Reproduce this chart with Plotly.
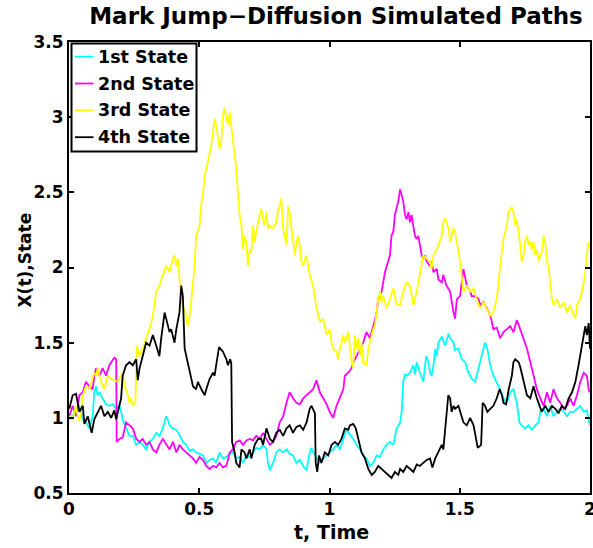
import plotly.graph_objects as go

# ---------------- data ----------------
t1 = [0.001,0.014,0.027,0.040,0.053,0.065,0.078,0.091,0.097,0.104,0.110,0.117,0.129,0.142,0.155,0.168,0.181,0.194,0.200,0.206,0.219,0.232,0.245,0.258,0.271,0.283,0.296,0.309,0.322,0.335,0.347,0.360,0.373,0.379,0.386,0.399,0.412,0.424,0.437,0.450,0.463,0.476,0.488,0.501,0.514,0.527,0.540,0.553,0.565,0.578,0.591,0.604,0.617,0.629,0.642,0.655,
      0.668,0.681,0.694,0.706,0.719,0.732,0.745,0.758,0.764,0.771,0.783,0.796,0.809,0.822,0.835,0.847,0.860,0.873,0.886,0.899,0.912,0.924,0.931,0.937,0.950,0.963,0.976,0.989,1.001,1.014,1.027,1.040,1.053,1.065,1.078,1.091,1.104,1.117,1.129,1.142,1.155,1.168,1.181,1.194,1.206,1.219,1.232,1.245,1.258,
      1.271,1.277,1.283,1.290,1.296,1.309,1.322,1.328,1.335,1.347,1.360,1.371,1.380,1.386,1.392,1.399,1.406,1.412,1.418,1.431,1.444,1.457,1.463,1.476,1.482,1.495,1.508,1.521,1.533,1.546,1.559,1.572,1.585,1.597,1.606,1.617,1.629,1.642,1.655,1.668,1.681,1.694,1.706,1.719,1.729,1.738,1.751,1.764,1.777,1.790,1.803,1.809,1.822,1.835,1.847,1.860,1.873,1.886,1.899,1.912,1.924,1.937,1.950,1.963,1.976,1.988,1.995,2.000]
x1 = [0.99,1.01,1.06,1.08,0.99,0.97,0.93,1.01,1.17,1.21,1.15,1.17,1.13,1.09,1.08,1.09,1.06,1.08,1.04,0.99,0.93,0.88,0.88,0.82,0.84,0.82,0.79,0.84,0.86,0.90,0.88,0.93,1.01,0.99,0.95,0.93,0.92,0.89,0.84,0.82,0.78,0.79,0.77,0.76,0.75,0.70,0.72,0.73,0.70,0.77,0.73,0.74,0.76,0.77,0.73,0.74,
      0.70,0.75,0.74,0.77,0.80,0.79,0.82,0.79,0.70,0.65,0.70,0.77,0.79,0.77,0.79,0.76,0.75,0.70,0.72,0.68,0.65,0.77,0.80,0.77,0.73,0.70,0.73,0.75,0.77,0.79,0.82,0.79,0.86,0.92,0.89,0.86,0.82,0.79,0.75,0.73,0.68,0.70,0.75,0.74,0.79,0.82,0.84,0.82,0.93,
      0.97,1.04,1.24,1.29,1.28,1.30,1.35,1.29,1.37,1.30,1.24,1.41,1.37,1.30,1.28,1.35,1.46,1.41,1.50,1.54,1.48,1.56,1.53,1.50,1.45,1.46,1.39,1.37,1.30,1.26,1.24,1.33,1.41,1.50,1.46,1.35,1.28,1.24,1.19,1.13,1.10,1.17,1.19,1.10,0.97,0.95,0.93,0.95,0.92,0.95,0.97,1.04,1.06,1.01,1.08,1.01,1.04,1.06,1.04,1.01,1.04,1.04,1.06,1.08,1.04,1.05,0.99,0.95]

t2 = [0.001,0.014,0.027,0.040,0.053,0.065,0.078,0.091,0.097,0.104,0.117,0.129,0.142,0.155,0.162,0.168,0.174,0.181,0.183,0.194,0.206,0.219,0.232,0.245,0.258,0.271,0.283,0.296,0.309,0.322,0.335,0.347,0.360,0.373,0.386,0.399,0.412,0.424,0.437,0.450,0.463,0.476,0.488,0.501,0.514,0.527,0.540,0.553,0.565,0.578,0.591,0.604,
      0.617,0.629,0.642,0.655,0.668,0.681,0.694,0.706,0.719,0.732,0.745,0.758,0.771,0.783,0.796,0.809,0.822,0.835,0.847,0.854,0.860,0.873,0.886,0.899,0.912,0.924,0.937,0.950,0.956,0.963,0.976,0.989,1.001,1.014,1.027,1.040,1.053,1.059,1.072,1.085,1.091,1.104,1.117,1.129,1.142,1.155,1.168,1.181,1.187,1.200,1.213,1.226,
      1.232,1.238,1.245,1.251,1.258,1.264,1.271,1.277,1.283,1.290,1.296,1.303,1.309,1.315,1.322,1.328,1.335,1.341,1.347,1.354,1.360,1.367,1.373,1.386,1.392,1.399,1.412,1.418,1.431,1.437,1.449,1.463,1.476,1.482,1.489,1.501,1.514,1.521,1.527,1.540,1.546,1.559,1.572,1.578,1.591,1.604,1.617,1.623,1.629,1.642,1.655,1.668,1.681,1.694,1.706,1.719,1.732,1.745,1.758,1.771,1.783,1.796,1.809,1.822,1.835,1.847,1.860,1.873,1.886,1.899,1.912,1.924,1.937,1.950,1.963,1.976,1.988,1.995,2.000]
x2 = [1.01,1.08,1.01,1.15,1.17,1.24,1.21,1.19,1.28,1.33,1.28,1.33,1.28,1.35,1.37,1.39,1.40,1.39,0.84,0.86,0.87,0.97,0.95,0.93,0.86,0.84,0.86,0.82,0.84,0.79,0.77,0.82,0.86,0.82,0.79,0.84,0.77,0.82,0.79,0.77,0.75,0.73,0.70,0.74,0.72,0.68,0.66,0.68,0.67,0.70,0.67,0.68,
      0.77,0.79,0.84,0.85,0.82,0.85,0.86,0.85,0.88,0.86,0.90,0.86,0.82,0.84,0.88,0.97,1.01,1.10,1.17,1.15,1.13,1.10,1.09,1.13,1.15,1.17,1.19,1.25,1.22,1.17,1.13,1.09,1.04,1.00,1.08,1.13,1.19,1.28,1.30,1.33,1.37,1.41,1.46,1.50,1.57,1.53,1.61,1.70,1.79,1.84,1.97,2.04,
      2.08,2.21,2.24,2.35,2.39,2.44,2.52,2.48,2.44,2.35,2.32,2.37,2.30,2.35,2.28,2.21,2.19,2.21,2.15,2.08,2.06,2.08,2.04,2.01,2.04,1.97,1.99,1.92,1.90,1.95,1.88,1.84,1.70,1.66,1.79,1.81,1.99,1.92,1.88,1.84,1.81,1.81,1.79,1.75,1.77,1.73,1.68,1.64,1.59,1.60,1.53,1.57,1.59,1.61,1.57,1.65,1.59,1.53,1.46,1.37,1.28,1.19,1.13,1.08,1.17,1.10,1.19,1.13,1.10,1.06,1.08,1.13,1.08,1.15,1.24,1.30,1.28,1.19,1.17]

t3 = [0.001,0.014,0.027,0.033,0.040,0.046,0.053,0.065,0.078,0.091,0.097,0.104,0.110,0.123,0.136,0.149,0.162,0.174,0.187,0.200,0.206,0.213,0.219,0.226,0.232,0.238,0.245,0.255,0.260,0.271,0.283,0.296,0.309,0.322,0.335,0.347,0.360,0.373,0.386,0.399,0.405,0.412,0.418,0.424,0.431,0.437,0.450,0.456,0.463,0.469,0.476,0.482,
      0.488,0.501,0.508,0.514,0.521,0.527,0.533,0.540,0.546,0.553,0.559,0.565,0.572,0.578,0.585,0.591,0.597,0.604,0.610,0.617,0.623,0.629,0.636,0.642,0.649,0.655,0.662,0.668,0.674,0.681,0.687,0.694,0.700,0.706,0.713,0.719,0.732,0.738,0.745,0.751,0.758,0.764,0.771,0.783,0.796,0.803,0.809,0.815,0.822,0.829,0.835,0.841,0.847,0.854,0.860,0.867,0.873,0.880,0.886,0.892,0.899,0.906,0.912,0.917,0.924,
      0.937,0.950,0.963,0.976,0.989,1.001,1.008,1.014,1.027,1.033,1.040,1.053,1.059,1.072,1.078,1.085,1.091,1.097,1.104,1.110,1.117,1.123,1.129,1.142,1.149,1.155,1.168,1.174,1.181,1.187,1.194,1.200,1.206,1.219,1.232,1.245,1.258,
      1.271,1.283,1.296,1.309,1.322,1.335,1.347,1.360,1.373,1.386,1.392,1.399,1.412,1.424,1.431,1.437,1.444,1.449,1.457,1.463,1.469,1.476,1.482,1.489,1.495,1.501,1.514,1.527,1.540,1.553,1.565,1.578,1.591,1.604,1.617,1.629,1.642,1.649,1.655,1.668,1.681,1.687,1.694,1.700,1.706,1.713,1.719,1.726,1.732,1.738,1.745,1.751,1.758,1.764,1.771,1.777,1.783,1.790,1.796,1.803,1.809,1.815,1.822,1.828,1.835,1.841,1.847,1.854,1.860,1.873,1.886,1.899,1.912,1.924,1.937,1.944,1.950,1.963,1.976,1.982,1.988,1.995,2.000]
x3 = [1.01,0.99,1.08,1.01,0.98,1.04,1.15,1.21,1.19,1.26,1.30,1.28,1.33,1.24,1.19,1.28,1.26,1.25,1.24,1.28,1.30,1.21,1.19,1.15,1.10,1.13,1.08,1.10,1.48,1.41,1.46,1.53,1.59,1.68,1.84,1.88,1.95,2.01,1.97,2.06,2.08,2.01,2.06,1.92,1.79,1.75,1.68,1.61,1.68,1.77,1.88,2.01,
      2.21,2.28,2.43,2.48,2.61,2.66,2.70,2.75,2.81,2.90,2.99,2.95,2.84,2.79,2.84,3.01,3.06,3.01,2.95,3.03,2.95,2.86,2.75,2.66,2.48,2.35,2.28,2.12,2.21,2.17,2.01,2.12,2.10,2.28,2.17,2.24,2.35,2.39,2.32,2.28,2.37,2.26,2.28,2.26,2.30,2.39,2.41,2.46,2.26,2.21,2.15,2.41,2.37,2.26,2.17,2.08,2.17,2.21,2.15,2.04,2.01,2.06,2.08,2.01,1.95,
      1.88,1.73,1.64,1.66,1.55,1.59,1.50,1.46,1.44,1.39,1.46,1.55,1.50,1.57,1.48,1.37,1.33,1.55,1.46,1.53,1.41,1.50,1.37,1.35,1.46,1.50,1.59,1.61,1.73,1.79,1.84,1.77,1.81,1.73,1.79,1.86,1.75,
      1.75,1.84,1.90,1.88,1.75,1.84,1.95,2.08,2.06,2.04,1.99,2.08,2.12,2.17,2.21,2.30,2.33,2.30,2.26,2.17,2.21,2.26,2.24,2.17,2.12,2.04,1.84,1.88,1.84,1.86,1.79,1.73,1.77,1.73,1.68,1.70,1.79,1.90,2.01,2.19,2.28,2.37,2.39,2.40,2.37,2.28,2.32,2.24,2.15,2.04,2.08,2.17,2.21,2.15,2.17,2.12,2.17,2.08,2.12,2.04,2.08,2.10,2.21,2.17,2.04,2.01,1.90,1.79,1.75,1.79,1.73,1.77,1.70,1.75,1.68,1.66,1.75,1.79,1.90,1.97,2.08,2.17,2.12]

t4 = [0.001,0.014,0.027,0.040,0.053,0.059,0.072,0.085,0.087,0.097,0.110,0.123,0.136,0.149,0.162,0.174,0.181,0.194,0.200,0.206,0.219,0.232,0.245,0.258,0.264,0.271,0.283,0.296,0.309,0.322,0.335,0.347,0.354,0.367,0.373,0.386,0.392,0.405,0.412,0.418,0.424,0.431,0.437,0.444,0.456,0.469,0.476,0.488,0.495,0.508,0.521,0.527,0.540,0.553,0.559,0.565,0.576,0.591,0.604,0.610,0.619,0.623,0.626,
      0.636,0.642,0.655,0.662,0.674,0.681,0.694,0.700,0.713,0.726,0.738,0.745,0.758,0.771,0.783,0.796,0.809,0.822,0.835,0.847,0.860,0.873,0.886,0.899,0.912,0.924,0.931,0.937,0.944,0.947,0.953,0.960,0.969,0.982,0.995,1.008,1.021,1.033,1.046,1.059,1.072,1.078,1.091,1.101,1.110,1.123,1.136,1.149,1.162,1.174,1.187,1.200,1.213,1.226,1.238,1.251,1.264,
      1.271,1.283,1.296,1.309,1.322,1.335,1.347,1.360,1.373,1.386,1.395,1.406,1.418,1.431,1.437,1.447,1.456,1.463,1.469,1.476,1.482,1.495,1.501,1.514,1.527,1.540,1.553,1.563,1.569,1.582,1.588,1.597,1.606,1.617,1.629,1.642,1.653,1.662,1.668,1.678,1.688,1.700,1.706,1.713,1.726,1.732,1.745,1.758,1.771,1.783,1.796,1.809,1.815,1.828,1.841,1.854,1.867,1.879,1.892,1.905,1.918,1.931,1.944,1.956,1.969,1.976,1.982,1.988,1.995,2.000]
x4 = [1.06,1.15,1.16,1.04,1.08,0.96,1.01,0.93,0.90,0.99,1.04,1.08,1.01,1.04,1.00,1.05,0.99,1.08,1.13,1.28,1.35,1.37,1.35,1.39,1.25,1.33,1.41,1.50,1.48,1.55,1.48,1.41,1.53,1.70,1.66,1.57,1.59,1.50,1.59,1.65,1.70,1.88,1.81,1.46,1.37,1.26,1.21,1.19,1.24,1.19,1.15,1.19,1.26,1.30,1.28,1.35,1.47,1.44,1.39,1.35,1.39,1.36,0.84,
      0.77,0.70,0.67,0.79,0.77,0.73,0.79,0.73,0.82,0.86,0.86,0.82,0.93,0.86,0.84,0.90,0.92,0.88,0.93,0.95,0.90,0.94,0.95,0.92,0.97,1.06,1.08,1.05,1.03,0.70,0.64,0.75,0.70,0.77,0.75,0.82,0.84,0.82,0.86,0.93,0.92,0.95,0.96,0.93,0.86,0.77,0.73,0.66,0.62,0.64,0.68,0.66,0.64,0.62,0.60,0.64,0.62,
      0.66,0.64,0.68,0.66,0.64,0.69,0.68,0.70,0.72,0.73,0.67,0.73,0.77,0.82,0.79,0.97,1.15,1.13,1.04,1.08,1.06,1.08,1.04,0.97,0.95,1.00,0.95,0.84,0.80,0.82,1.10,1.08,1.04,1.06,1.08,1.13,1.19,1.15,1.10,1.09,1.19,1.28,1.37,1.39,1.37,1.34,1.24,1.15,1.13,1.21,1.13,1.06,1.04,1.08,1.04,1.08,1.06,1.03,1.08,1.06,1.13,1.17,1.24,1.35,1.48,1.55,1.61,1.55,1.63,1.46]

names = ["1st State", "2nd State", "3rd State", "4th State"]
colors = ["#00FFFF", "#FF00FF", "#FFFF00", "#000000"]
series_t = [t1, t2, t3, t4]
series_x = [x1, x2, x3, x4]

x_ticks = [0, 0.5, 1, 1.5, 2]
x_ticktext = ["0", "0.5", "1", "1.5", "2"]
y_ticks = [0.5, 1, 1.5, 2, 2.5, 3, 3.5]
y_ticktext = ["0.5", "1", "1.5", "2", "2.5", "3", "3.5"]

title_text = "Mark Jump\u2212Diffusion Simulated Paths"
x_title = "t, Time"
y_title = "X(t),State"

# ---------------- figure ----------------
FONT = "DejaVu Sans"
W, H = 593, 548
ML, MR, MT, MB = 69, 3, 42, 55

fig = go.Figure()
for tt, xx, nm, c in zip(series_t, series_x, names, colors):
    fig.add_trace(go.Scatter(x=tt, y=xx, mode="lines", name=nm,
                             line=dict(color=c, width=1.8), showlegend=False))

axis_common = dict(showgrid=False, zeroline=False, showline=True, linecolor="black",
                   linewidth=2, mirror="allticks", ticks="inside", ticklen=5,
                   tickwidth=1.5, tickcolor="black", ticklabeloverflow="allow",
                   tickfont=dict(family=FONT, size=17, color="black", weight="bold"))

fig.update_xaxes(range=[0, 2], tickvals=x_ticks, ticktext=x_ticktext, **axis_common)
fig.update_yaxes(range=[0.5, 3.5], tickvals=y_ticks, ticktext=y_ticktext, **axis_common)

pw = W - ML - MR
ph = H - MT - MB
def px2x(px):
    return (px - ML) / pw
def py2y(py):
    return (H - MB - py) / ph

# axis titles placed where the reference shows them
annotations = [
    dict(xref="paper", yref="paper", x=px2x(331), y=py2y(532), xanchor="center", yanchor="middle",
         showarrow=False, text=x_title, font=dict(family=FONT, size=19, color="black", weight="bold")),
    dict(xref="paper", yref="paper", x=px2x(24), y=py2y(260.5), xanchor="center", yanchor="middle",
         showarrow=False, text=y_title, textangle=-90,
         font=dict(family=FONT, size=17, color="black", weight="bold")),
]

# MATLAB-style legend box (top-left)
shapes = [dict(type="rect", xref="paper", yref="paper",
               x0=px2x(71.5), x1=px2x(196.5), y0=py2y(151.5), y1=py2y(43.5),
               line=dict(color="black", width=2), fillcolor="white", layer="above")]
legend_py = [56.7, 83.5, 110.3, 137.2]
for nm, c, ly in zip(names, colors, legend_py):
    shapes.append(dict(type="line", xref="paper", yref="paper",
                       x0=px2x(75), x1=px2x(93.5), y0=py2y(ly), y1=py2y(ly),
                       line=dict(color=c, width=1.8), layer="above"))
    annotations.append(dict(xref="paper", yref="paper", x=px2x(95.5), y=py2y(ly),
                            xanchor="left", yanchor="middle", showarrow=False, text=nm,
                            font=dict(family=FONT, size=17.5, color="black", weight="bold")))

fig.update_layout(
    width=W, height=H,
    margin=dict(l=ML, r=MR, t=MT, b=MB, autoexpand=False),
    paper_bgcolor="white", plot_bgcolor="white",
    title=dict(text=title_text, x=336 / W, xanchor="center",
               y=1 - 16 / H, yanchor="middle", yref="container", xref="container",
               font=dict(family=FONT, size=23, color="black", weight="bold")),
    shapes=shapes, annotations=annotations,
    showlegend=False,
)

fig.write_html("out.html")
